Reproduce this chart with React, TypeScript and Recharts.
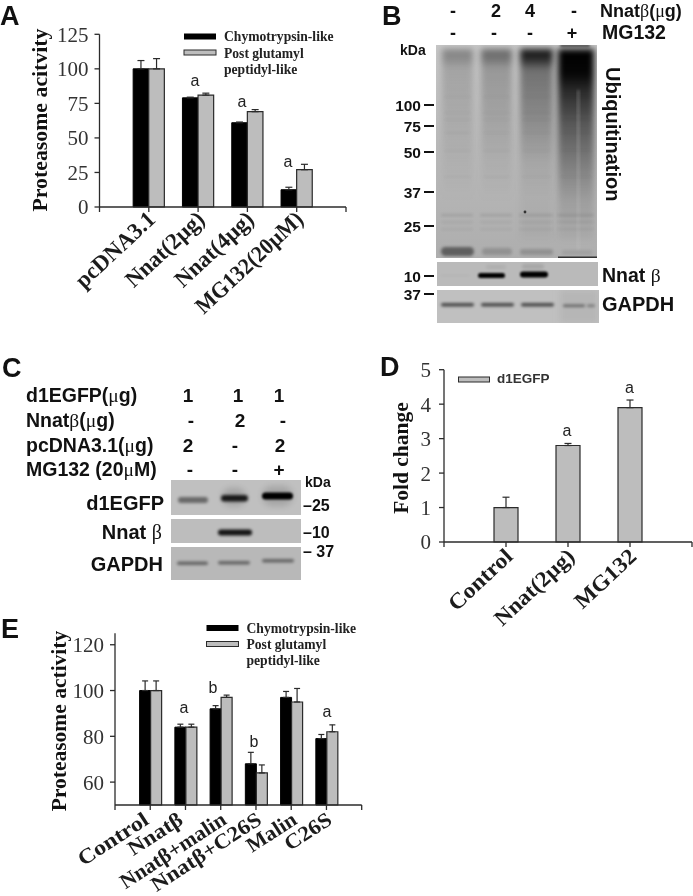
import { BarChart, Bar, XAxis, YAxis, ErrorBar } from 'recharts';

const SERIF = '"Liberation Serif", serif';
const SANS = '"Liberation Sans", sans-serif';
const GREY = '#bdbdbd';
const INK = '#2b2b2b';

// panel A
const catsA = ['pcDNA3.1', 'Nnat(2µg)', 'Nnat(4µg)', 'MG132(20µM)'];
const chymoA = [100, 79, 61, 12.5];
const chymoErrA = [6, 0.5, 0.5, 1.8];
const glutaA = [100, 81, 69, 27];
const glutaErrA = [7.4, 1.4, 1.5, 3.9];

// panel D
const catsD = ['Control', 'Nnat(2µg)', 'MG132'];
const foldD = [1, 2.8, 3.9];
const foldErrD = [0.3, 0.06, 0.22];

// panel E
const catsE = ['Control', 'Nnatβ', 'Nnatβ+malin', 'Nnatβ+C26S', 'Malin', 'C26S'];
const chymoE = [100, 84, 92, 68, 97, 79];
const chymoErrE = [4.2, 1.3, 1.4, 5, 2.6, 1.8];
const glutaE = [100, 84, 97, 64, 95, 82];
const glutaErrE = [4.2, 1.3, 1, 3.5, 5.9, 3];

const ticksFor = (n: number) => Array.from({ length: n + 2 }, (_, i) => i);

const rows = (cats: string[], a: number[], aErr: number[], b?: number[], bErr?: number[]) =>
  cats.map((c, i) => ({
    pos: i + 1,
    name: c,
    a: a[i],
    aErr: [0, aErr[i]],
    b: b ? b[i] : 0,
    bErr: [0, bErr ? bErr[i] : 0],
  }));

const catTick = (cats: string[], angle: number, dx: number, dy: number, size: number, lens: number[], shift?: number[]) => (props: any) => {
  const { x, y, payload } = props;
  const i = payload.value - 1;
  const label = cats[i];
  if (!label) return <g />;
  const px = x + dx + (shift ? shift[i] : 0);
  const py = y + dy;
  return (
    <text
      x={px}
      y={py}
      textAnchor="end"
      textLength={lens[i]}
      lengthAdjust="spacingAndGlyphs"
      transform={`rotate(${angle} ${px} ${py})`}
      fontFamily={SERIF}
      fontWeight="bold"
      fontSize={size}
      fill="#1c1c1c"
    >
      {label}
    </text>
  );
};

const axisProps = { stroke: INK, strokeWidth: 1.3 };
const numTick = { fontFamily: SERIF, fontSize: 21, fill: '#333' };

function Txt({ x, y, size = 16, bold = true, serif = false, anchor = 'start', rotate = 0, children, fill = '#111' }: any) {
  return (
    <text
      x={x}
      y={y}
      fontSize={size}
      fontWeight={bold ? 'bold' : 'normal'}
      fontFamily={serif ? SERIF : SANS}
      textAnchor={anchor}
      fill={fill}
      transform={rotate ? `rotate(${rotate} ${x} ${y})` : undefined}
    >
      {children}
    </text>
  );
}

const Greek = ({ children }: any) => (
  <tspan fontWeight="normal" fontFamily={SERIF}>
    {children}
  </tspan>
);

function Legend2({ x, y }: { x: number; y: number }) {
  return (
    <g>
      <rect x={x} y={y} width={32} height={6} fill="#000" />
      <rect x={x} y={y + 16.5} width={32} height={5} fill={GREY} stroke={INK} strokeWidth={1} />
      <Txt x={x + 40} y={y + 7.5} size={13.6} serif fill="#222">Chymotrypsin-like</Txt>
      <Txt x={x + 40} y={y + 24} size={13.6} serif fill="#222">Post glutamyl</Txt>
      <Txt x={x + 40} y={y + 40} size={13.6} serif fill="#222">peptidyl-like</Txt>
    </g>
  );
}

// blot pictures, not chart data
function Band({ x, y, w, h, o = 1, blur = 'b1', c = '#000' }: any) {
  return <rect x={x} y={y} width={w} height={h} rx={Math.min(h, w) / 2} fill={c} opacity={o} filter={`url(#${blur})`} />;
}

const laneStops = [
  [[0, 0.32], [0.05, 0.3], [0.1, 0.16], [0.35, 0.1], [0.6, 0.04], [0.8, 0]],
  [[0, 0.45], [0.05, 0.42], [0.1, 0.22], [0.35, 0.14], [0.6, 0.05], [0.8, 0]],
  [[0, 0.9], [0.05, 0.8], [0.11, 0.42], [0.35, 0.28], [0.6, 0.09], [0.8, 0.03]],
  [[0, 1], [0.13, 0.97], [0.22, 0.78], [0.38, 0.55], [0.6, 0.32], [0.8, 0.12], [0.95, 0.05]],
];
const laneBoxes = [
  [442, 31],
  [481, 31],
  [520, 33],
  [558, 36],
];
const smearLines = [96, 112, 119, 132, 150, 176];

function Blots() {
  return (
    <g>
      <defs>
        <filter id="b05" x="-30%" y="-200%" width="160%" height="500%"><feGaussianBlur stdDeviation="0.9" /></filter>
        <filter id="b1" x="-30%" y="-300%" width="160%" height="700%"><feGaussianBlur stdDeviation="1.4" /></filter>
        <filter id="b3" x="-30%" y="-30%" width="160%" height="160%"><feGaussianBlur stdDeviation="3" /></filter>
        <linearGradient id="bgB" x1="0" y1="0" x2="0" y2="1">
          <stop offset="0" stopColor="#c6c6c6" />
          <stop offset="0.5" stopColor="#b8b8b8" />
          <stop offset="1" stopColor="#aeaeae" />
        </linearGradient>
        {laneStops.map((stops, i) => (
          <linearGradient key={i} id={`lane${i}`} x1="0" y1="0" x2="0" y2="1">
            {stops.map(([o, a]) => (
              <stop key={o} offset={o} stopColor="#000" stopOpacity={a} />
            ))}
          </linearGradient>
        ))}
        <clipPath id="clipB"><rect x={436} y={45} width={161} height={213} /></clipPath>
        <clipPath id="clipN"><rect x={437} y={262} width={161} height={24} /></clipPath>
        <clipPath id="clipG"><rect x={437} y={290} width={162} height={33} /></clipPath>
        <clipPath id="clipC1"><rect x={171} y={480} width={130} height={35} /></clipPath>
        <clipPath id="clipC2"><rect x={171} y={519} width={130} height={24} /></clipPath>
        <clipPath id="clipC3"><rect x={171} y={547} width={130} height={33} /></clipPath>
      </defs>

      {/* B ubiquitin */}
      <g clipPath="url(#clipB)">
        <rect x={436} y={45} width={161} height={213} fill="url(#bgB)" />
        {laneBoxes.map(([x, w], i) => (
          <rect key={i} x={x} y={49} width={w} height={190} fill={`url(#lane${i})`} filter="url(#b3)" />
        ))}
        <Band x={560} y={44} w={30} h={3} o={0.5} blur="b05" />
        <rect x={577} y={90} width={2.5} height={160} fill="#c8c8c8" opacity={0.3} filter="url(#b1)" />
        {smearLines.map((y) => laneBoxes.map(([x, w]) => <Band key={`${x}${y}`} x={x + 2} y={y} w={w - 4} h={1.6} o={0.035} />))}
        {laneBoxes.map(([x, w], i) => (
          <g key={i}>
            <Band x={x - 1} y={214} w={w + 1} h={2.2} o={0.11} />
            <Band x={x - 1} y={221} w={w + 1} h={2.2} o={0.06} />
            <Band x={x - 1} y={228} w={w + 1} h={2.2} o={0.05} />
          </g>
        ))}
        <Band x={441} y={247} w={33} h={9} o={0.45} />
        <Band x={482} y={248} w={30} h={7} o={0.16} />
        <Band x={520} y={249} w={33} h={6} o={0.16} />
        <Band x={562} y={250} w={30} h={5} o={0.07} />
        <rect x={558} y={256.5} width={40} height={1.5} fill="#333" />
        <circle cx={525} cy={212} r={1.4} fill="#333" />
      </g>

      {/* B nnat */}
      <g clipPath="url(#clipN)">
        <rect x={437} y={262} width={161} height={24} fill="#bababa" />
        <Band x={478} y={273} w={27} h={5} o={1} blur="b05" />
        <Band x={486} y={265} w={20} h={4} o={0.06} />
        <Band x={520} y={271.5} w={28} h={6} o={1} blur="b05" />
        <Band x={522} y={264} w={22} h={5} o={0.1} />
        <Band x={440} y={275} w={30} h={1} o={0.05} />
      </g>

      {/* B gapdh */}
      <g clipPath="url(#clipG)">
        <rect x={437} y={290} width={162} height={33} fill="#c0c0c0" />
        <rect x={560} y={290} width={38} height={33} fill="#b6b6b6" filter="url(#b3)" />
        <Band x={441} y={303} w={33} h={3.4} o={0.62} />
        <Band x={481} y={303} w={33} h={3.4} o={0.62} />
        <Band x={521} y={303} w={33} h={3.4} o={0.62} />
        <Band x={563} y={304.5} w={22} h={2.6} o={0.45} />
        <Band x={587} y={304.5} w={8} h={2.6} o={0.35} />
      </g>

      {/* C blots */}
      <g clipPath="url(#clipC1)">
        <rect x={171} y={480} width={130} height={35} fill="#c0c0c0" />
        <Band x={178} y={497} w={30} h={6} o={0.45} />
        <Band x={221} y={495} w={27} h={6.5} o={0.85} />
        <Band x={222} y={488} w={24} h={18} o={0.15} blur="b3" />
        <Band x={262} y={492.5} w={31} h={7} o={1} blur="b05" />
        <Band x={262} y={486} w={31} h={20} o={0.14} blur="b3" />
      </g>
      <g clipPath="url(#clipC2)">
        <rect x={171} y={519} width={130} height={24} fill="#bdbdbd" />
        <Band x={218} y={529.5} w={34} h={6} o={0.9} />
      </g>
      <g clipPath="url(#clipC3)">
        <rect x={171} y={547} width={130} height={33} fill="#b8b8b8" />
        <Band x={177} y={561.5} w={31} h={3.6} o={0.45} />
        <Band x={218} y={561} w={32} h={3.6} o={0.45} />
        <Band x={262} y={559} w={32} h={3.6} o={0.45} />
      </g>
    </g>
  );
}

export default function App() {
  const dataA = rows(catsA, chymoA, chymoErrA, glutaA, glutaErrA);
  const dataD = rows(catsD, foldD, foldErrD);
  const dataE = rows(catsE, chymoE, chymoErrE, glutaE, glutaErrE);

  return (
    <div style={{ position: 'relative', width: 693, height: 896, background: '#fff', overflow: 'hidden', filter: 'blur(0.35px)' }}>
      <style>{'body{margin:0}'}</style>

      {/* A */}
      <div style={{ position: 'absolute', left: 0, top: 0 }}>
        <BarChart width={370} height={340} data={dataA} barSize={15.6} barGap={0} margin={{ left: 0, top: 34.3, right: 24, bottom: 0 }}>
          <XAxis dataKey="pos" type="number" domain={[0, 5]} ticks={ticksFor(4)} height={133} tickSize={5} interval={0} tick={catTick(catsA, -43, 8, 7, 23, [100, 99, 99, 138])} {...axisProps} />
          <YAxis domain={[0, 125]} ticks={[0, 25, 50, 75, 100, 125]} width={99.5} tickSize={5} tickMargin={6} tick={numTick} {...axisProps} />
          <Bar dataKey="a" fill="#000" stroke="#000" isAnimationActive={false}>
            <ErrorBar dataKey="aErr" direction="y" width={3.5} stroke={INK} strokeWidth={1.2} isAnimationActive={false} />
          </Bar>
          <Bar dataKey="b" fill={GREY} stroke={INK} strokeWidth={1.2} isAnimationActive={false}>
            <ErrorBar dataKey="bErr" direction="y" width={3.5} stroke={INK} strokeWidth={1.2} isAnimationActive={false} />
          </Bar>
        </BarChart>
      </div>

      {/* D */}
      <div style={{ position: 'absolute', left: 370, top: 350 }}>
        <BarChart width={323} height={300} data={dataD} barSize={24} margin={{ left: 0, top: 19.7, right: 1, bottom: 0 }}>
          <XAxis dataKey="pos" type="number" domain={[0, 4]} ticks={ticksFor(3)} height={108} tickSize={5} interval={0} tick={catTick(catsD, -43, 8, 9, 22, [79, 101, 76])} {...axisProps} />
          <YAxis domain={[0, 5]} ticks={[0, 1, 2, 3, 4, 5]} width={74} tickSize={5} tickMargin={8} tick={numTick} {...axisProps} />
          <Bar dataKey="a" fill={GREY} stroke={INK} strokeWidth={1.2} isAnimationActive={false}>
            <ErrorBar dataKey="aErr" direction="y" width={3.5} stroke={INK} strokeWidth={1.2} isAnimationActive={false} />
          </Bar>
        </BarChart>
      </div>

      {/* E */}
      <div style={{ position: 'absolute', left: 0, top: 610 }}>
        <BarChart width={400} height={286} data={dataE} barSize={11} barGap={0} margin={{ left: 0, top: 23.3, right: 38.3, bottom: 0 }}>
          <XAxis dataKey="pos" type="number" domain={[0, 7]} ticks={ticksFor(6)} height={91} tickSize={5} interval={0} tick={catTick(catsE, -33, 7, 11, 21, [80, 61, 122, 127, 55, 52], [-7, -8, 0, 0, 0, 0])} {...axisProps} />
          <YAxis domain={[50, 125]} ticks={[60, 80, 100, 120]} width={115} tickSize={5} tickMargin={6} tick={numTick} {...axisProps} />
          <Bar dataKey="a" fill="#000" stroke="#000" isAnimationActive={false}>
            <ErrorBar dataKey="aErr" direction="y" width={3} stroke={INK} strokeWidth={1.2} isAnimationActive={false} />
          </Bar>
          <Bar dataKey="b" fill={GREY} stroke={INK} strokeWidth={1.2} isAnimationActive={false}>
            <ErrorBar dataKey="bErr" direction="y" width={3} stroke={INK} strokeWidth={1.2} isAnimationActive={false} />
          </Bar>
        </BarChart>
      </div>

      <svg width={693} height={896} style={{ position: 'absolute', left: 0, top: 0, pointerEvents: 'none' }}>
        <Blots />

        {/* panel letters */}
        <Txt x={0} y={25} size={27}>A</Txt>
        <Txt x={382} y={25} size={27}>B</Txt>
        <Txt x={2} y={377} size={27}>C</Txt>
        <Txt x={380} y={376} size={27}>D</Txt>
        <Txt x={1} y={638} size={27}>E</Txt>

        {/* A labels */}
        <Txt x={47} y={120} size={21.8} serif anchor="middle" rotate={-90}>Proteasome acitvity</Txt>
        <Legend2 x={184} y={33.5} />
        <Txt x={195} y={86} bold={false} anchor="middle" fill="#222">a</Txt>
        <Txt x={242} y={107} bold={false} anchor="middle" fill="#222">a</Txt>
        <Txt x={288} y={167} bold={false} anchor="middle" fill="#222">a</Txt>

        {/* B labels */}
        {[[453, '-'], [496, '2'], [530, '4'], [574, '-']].map(([x, t]) => (
          <Txt key={String(x)} x={x} y={17} size={18} anchor="middle">{t}</Txt>
        ))}
        {[[453, '-'], [494, '-'], [530, '-'], [572, '+']].map(([x, t]) => (
          <Txt key={String(x)} x={x} y={39} size={18} anchor="middle">{t}</Txt>
        ))}
        <Txt x={600} y={17} size={18}>Nnat<Greek>β</Greek>(<Greek>μ</Greek>g)</Txt>
        <Txt x={602} y={39} size={19.5}>MG132</Txt>
        <Txt x={400} y={55} size={14}>kDa</Txt>
        {[[100, 105], [75, 126], [50, 152], [37, 192], [25, 226], [10, 276], [37, 294]].map(([v, y], i) => (
          <g key={i}>
            <Txt x={421} y={y + 5.5} size={15.5} anchor="end">{v}</Txt>
            <rect x={424} y={y - 1} width={10} height={2} fill="#111" />
          </g>
        ))}
        <Txt x={606} y={67} size={20} rotate={90}>Ubiquitination</Txt>
        <Txt x={602} y={282} size={19.5}>Nnat <Greek>β</Greek></Txt>
        <Txt x={602} y={311} size={20}>GAPDH</Txt>

        {/* C labels */}
        <Txt x={26} y={402} size={19.5}>d1EGFP(<Greek>μ</Greek>g)</Txt>
        <Txt x={26} y={427} size={19.5}>Nnat<Greek>β</Greek>(<Greek>μ</Greek>g)</Txt>
        <Txt x={26} y={452} size={19.5}>pcDNA3.1(<Greek>μ</Greek>g)</Txt>
        <Txt x={26} y={476} size={19.5}>MG132 (20<Greek>μ</Greek>M)</Txt>
        {[[188, 402, '1'], [238, 402, '1'], [279, 402, '1'], [191, 427, '-'], [240, 427, '2'], [283, 427, '-'], [188, 452, '2'], [235, 452, '-'], [280, 452, '2'], [190, 476, '-'], [235, 476, '-'], [279, 476, '+']].map(([x, y, t], i) => (
          <Txt key={i} x={x} y={y} size={19} anchor="middle">{t}</Txt>
        ))}
        <Txt x={164} y={510} size={20} anchor="end">d1EGFP</Txt>
        <Txt x={162} y={539} size={20} anchor="end">Nnat <Greek>β</Greek></Txt>
        <Txt x={163} y={571} size={20} anchor="end">GAPDH</Txt>
        <Txt x={305} y={487} size={14}>kDa</Txt>
        <Txt x={303} y={511} size={16}>–25</Txt>
        <Txt x={303} y={538} size={16}>–10</Txt>
        <Txt x={303} y={557} size={16}>– 37</Txt>

        {/* D labels */}
        <rect x={458.5} y={377} width={31} height={5} fill={GREY} stroke={INK} strokeWidth={1} />
        <Txt x={497} y={383} size={13.5} fill="#333">d1EGFP</Txt>
        <Txt x={408} y={458} size={21.5} serif anchor="middle" rotate={-90}>Fold change</Txt>
        <Txt x={567} y={436} bold={false} anchor="middle" fill="#222">a</Txt>
        <Txt x={629.5} y={393} bold={false} anchor="middle" fill="#222">a</Txt>

        {/* E labels */}
        <Txt x={66} y={721} size={21.5} serif anchor="middle" rotate={-90}>Proteasome activity</Txt>
        <Legend2 x={206.5} y={625} />
        <Txt x={213} y={692.7} bold={false} anchor="middle" fill="#222">b</Txt>
        <Txt x={184} y={712.7} bold={false} anchor="middle" fill="#222">a</Txt>
        <Txt x={254} y={747} bold={false} anchor="middle" fill="#222">b</Txt>
        <Txt x={327} y={717} bold={false} anchor="middle" fill="#222">a</Txt>
      </svg>
    </div>
  );
}
